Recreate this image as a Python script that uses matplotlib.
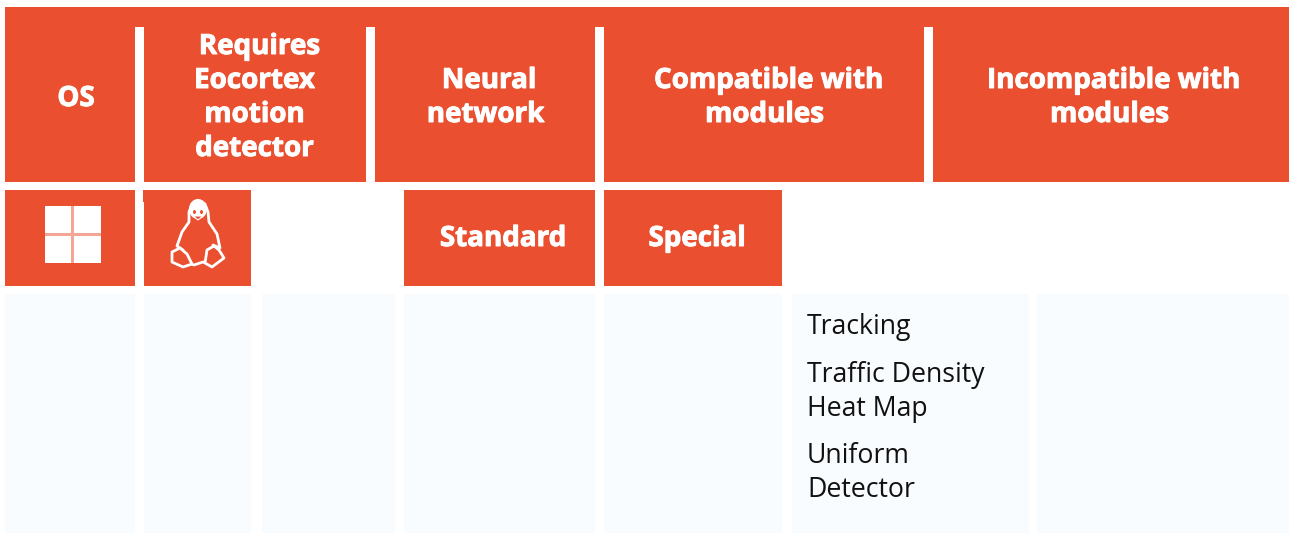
import matplotlib
matplotlib.use("Agg")
import matplotlib.pyplot as plt
import matplotlib.patheffects as pe
from matplotlib.patches import Rectangle, Ellipse, Polygon

W, H = 1289, 534
ORANGE = "#EA4F30"
PALE = "#F8FCFE"
FONT = "Open Sans"

header_labels = [["OS"], ["Requires", "Eocortex", "motion", "detector"], ["Neural", "network"],
                 ["Compatible with", "modules"], ["Incompatible with", "modules"]]
subheader_labels = ["Standard", "Special"]
module_labels = ["Tracking", "Traffic Density", "Heat Map", "Uniform", "Detector"]

fig = plt.figure(figsize=(W / 100, H / 100), dpi=100, facecolor="white")
ax = fig.add_axes([0, 0, 1, 1])
ax.set_xlim(0, W)
ax.set_ylim(H, 0)
ax.axis("off")
heavy = [pe.withStroke(linewidth=0.7, foreground="white")]


def box(x0, x1, y0, y1, color):
    ax.add_patch(Rectangle((x0, y0), x1 - x0, y1 - y0, fc=color, ec="none", lw=0))


def bold(x, y, s):
    ax.text(x, y, s, color="white", fontsize=20, fontweight="bold", family=FONT,
            ha="center", va="baseline", path_effects=heavy)


# header row
box(5, 1289, 7, 182, ORANGE)
for gx0, gx1 in [(135, 144), (366, 375), (595, 604), (924, 933)]:
    box(gx0, gx1, 27, 182, "white")
header_x = [76, 254.5, 485.5, 764.5, 1109.5]
header_first_y = [106, 54, 88, 88, 88]
first_line_shift = [0, 5, 3.5, 4, 4]
for cx, y0, shift, lines in zip(header_x, header_first_y, first_line_shift, header_labels):
    for i, s in enumerate(lines):
        bold(cx + (shift if i == 0 else 0), y0 + 34 * i, s)

# second row
for x0, x1 in [(5, 135), (144, 251), (404, 595), (604, 782)]:
    box(x0, x1, 190, 286, ORANGE)
box(143, 144, 190, 202, ORANGE)
for cx, s in zip([503, 697], subheader_labels):
    bold(cx, 246, s)

# third row
for x0, x1 in [(5, 135), (144, 251), (262, 395), (404, 595), (604, 782), (792, 1029), (1037, 1289)]:
    box(x0, x1, 294, 533, PALE)
for y, s in zip([334, 382, 416, 463, 497], module_labels):
    ax.text(807, y, s, color="#111111", fontsize=19.2, family=FONT, ha="left", va="baseline")

# Windows icon
for x0, x1 in [(44.5, 71), (74, 101)]:
    for y0, y1 in [(206, 232.5), (236, 262.5)]:
        box(x0, x1, y0, y1, "#FFFFFF")
box(71, 74, 206, 262.5, "#F4A593")
box(44.5, 101, 232.5, 236, "#F4A593")

# Linux penguin icon (outline)
lw = 2.0
ax.add_patch(Polygon([(197, 202), (192, 204), (189, 212), (189, 222), (182, 232), (177, 246), (183, 250),
                      (186, 262), (194, 265), (203, 262), (209, 264), (216, 258), (213, 245), (220, 248),
                      (217, 234), (209, 222), (208, 212), (205, 204)],
                     closed=True, fc="none", ec="white", lw=lw, joinstyle="round"))
# feet
ax.add_patch(Polygon([(180, 248), (172, 252), (172, 262), (183, 267), (192, 264), (187, 254)],
                     closed=True, fc=ORANGE, ec="white", lw=lw, joinstyle="round"))
ax.add_patch(Polygon([(214, 246), (207, 250), (205, 263), (212, 267), (224, 258), (219, 250)],
                     closed=True, fc=ORANGE, ec="white", lw=lw, joinstyle="round"))
# face and beak
ax.add_patch(Ellipse((198, 209), 18, 20, fc="white", ec="none"))
ax.add_patch(Ellipse((194.5, 212), 3, 4, fc=ORANGE, ec="none"))
ax.add_patch(Ellipse((201.5, 212), 3, 4, fc=ORANGE, ec="none"))
ax.add_patch(Polygon([(193, 216), (203, 216), (198, 220)], closed=True, fc=ORANGE, ec="white", lw=0.8))

fig.savefig("out.png", dpi=100, facecolor="white")
